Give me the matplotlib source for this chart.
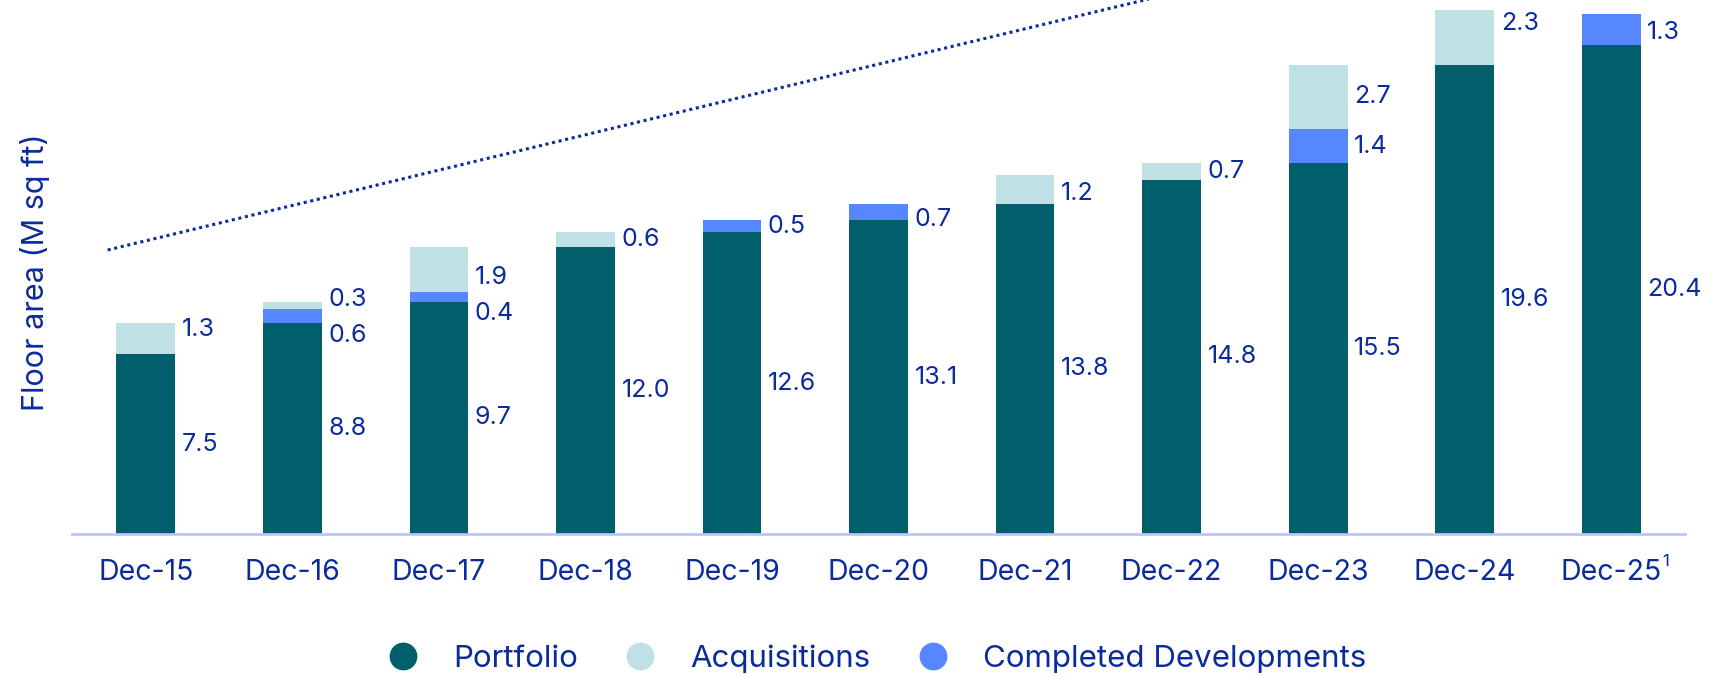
import matplotlib.pyplot as plt
import numpy as np
from matplotlib.lines import Line2D

plt.rcParams['font.family'] = ['Inter', 'DejaVu Sans']

# data (M sq ft)
periods = ["Dec-15", "Dec-16", "Dec-17", "Dec-18", "Dec-19", "Dec-20",
           "Dec-21", "Dec-22", "Dec-23", "Dec-24", "Dec-25"]
portfolio = [7.5, 8.8, 9.7, 12.0, 12.6, 13.1, 13.8, 14.8, 15.5, 19.6, 20.4]
completed = [0.0, 0.6, 0.4, 0.0, 0.5, 0.7, 0.0, 0.0, 1.4, 0.0, 1.3]
acquisitions = [1.3, 0.3, 1.9, 0.6, 0.0, 0.0, 1.2, 0.7, 2.7, 2.3, 0.0]

# dotted trend line (x in category units, y in M sq ft)
trend_x = [-0.26, 10.0]
trend_y = [11.86, 27.0]

c_port = "#005f6b"
c_acq = "#bfe0e4"
c_comp = "#5687ff"
c_text = "#0b2b9c"

# label nudges to keep small labels apart
comp_nudge = [0, -0.8, -0.7, 0, 0, -0.3, 0, 0, 0, 0, -0.1]
acq_nudge = [0.4, 0.25, -0.35, 0, 0, 0, -0.2, 0, 0, 0.55, 0]

fig = plt.figure(figsize=(17.26, 6.78), dpi=100)
ax = fig.add_axes([0.042, 0.2124, 0.934, 0.7876])

x = np.arange(len(periods))
w = 0.40
port = np.array(portfolio)
comp = np.array(completed)
acq = np.array(acquisitions)

ax.bar(x, port, w, color=c_port, zorder=2)
ax.bar(x, comp, w, bottom=port, color=c_comp, zorder=2)
ax.bar(x, acq, w, bottom=port + comp, color=c_acq, zorder=2)

fs = 18
lx = x + w / 2 + 0.045
for i in range(len(x)):
    ax.text(lx[i], port[i] / 2, f"{port[i]:.1f}", ha="left", va="center",
            fontsize=fs, color=c_text)
    if comp[i] > 0:
        ax.text(lx[i], port[i] + comp[i] / 2 + comp_nudge[i], f"{comp[i]:.1f}",
                ha="left", va="center", fontsize=fs, color=c_text)
    if acq[i] > 0:
        ax.text(lx[i], port[i] + comp[i] + acq[i] / 2 + acq_nudge[i], f"{acq[i]:.1f}",
                ha="left", va="center", fontsize=fs, color=c_text)

ax.plot(trend_x, trend_y, linestyle=(0, (1, 1.2)), color=c_text, linewidth=2.2, zorder=3)

ax.set_xlim(-0.5, 10.5)
ax.set_ylim(0, 22.3)
ax.set_xticks(x)
ax.set_xticklabels(periods, fontsize=20.5, color=c_text)
ax.tick_params(axis="x", length=0, pad=18)
ax.set_yticks([])
for s in ["top", "right", "left"]:
    ax.spines[s].set_visible(False)
ax.spines["bottom"].set_color("#b8c8ff")
ax.spines["bottom"].set_linewidth(2)
ax.set_ylabel("Floor area (M sq ft)", fontsize=22, color=c_text)
ax.yaxis.set_label_coords(-0.014, 0.49)

# footnote marker on the last period
ax.annotate("1", xy=(x[-1], 0), xycoords="data", xytext=(37, -25),
            textcoords="offset points", fontsize=12, color=c_text,
            ha="left", va="bottom", annotation_clip=False)

handles = [Line2D([], [], marker="o", linestyle="", markersize=19, color=c) for c in
           [c_port, c_acq, c_comp]]
fig.legend(handles, ["Portfolio", "Acquisitions", "Completed Developments"],
           loc="center", bbox_to_anchor=(0.5035, 0.028), ncol=3, frameon=False,
           fontsize=22.5, labelcolor=c_text, handletextpad=0.6, columnspacing=1.0)

fig.savefig("out.png", dpi=100)
